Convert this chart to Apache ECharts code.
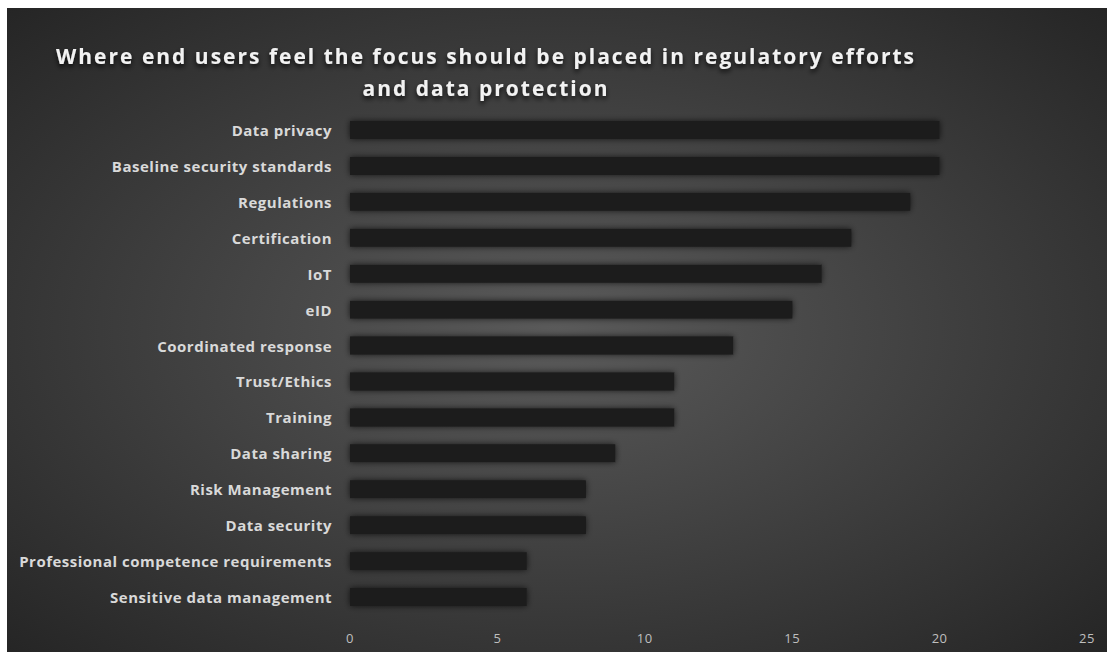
<!DOCTYPE html>
<html>
<head>
<meta charset="utf-8">
<script src="https://cdn.jsdelivr.net/npm/echarts@6/dist/echarts.min.js"></script>
<style>
html,body{margin:0;padding:0;background:#fff;}
#chart{position:absolute;left:7px;top:8px;width:1100px;height:644px;}
#chart text{letter-spacing:0.5px;}
</style>
</head>
<body>
<div id="chart"></div>
<script>
var categories = ["Data privacy","Baseline security standards","Regulations","Certification","IoT","eID","Coordinated response","Trust/Ethics","Training","Data sharing","Risk Management","Data security","Professional competence requirements","Sensitive data management"];
var values = [20,20,19,17,16,15,13,11,11,9,8,8,6,6];
var titleLines = ["Where end users feel the focus should be placed in regulatory efforts", "and data protection"];
var axisMin = 0, axisMax = 25, axisInterval = 5;

var chart = echarts.init(document.getElementById('chart'), null, {renderer: 'svg'});
chart.setOption({
  animation: false,
  backgroundColor: {
    type: 'radial', x: 0.5, y: 0.5, r: 0.75,
    colorStops: [{offset: 0, color: '#5a5a5a'}, {offset: 1, color: '#222222'}]
  },
  title: {
    text: titleLines.join('\n'),
    left: 474, top: 27, textAlign: 'center',
    textStyle: {
      fontFamily: 'Open Sans', fontWeight: 'bold', fontSize: 21, lineHeight: 32,
      color: '#f2f2f2', textShadowColor: 'rgba(0,0,0,0.8)', textShadowBlur: 5, textShadowOffsetY: 3
    }
  },
  grid: {left: 343, right: 20, top: 104, bottom: 37},
  xAxis: {
    type: 'value', min: axisMin, max: axisMax, interval: axisInterval,
    axisLine: {show: false}, axisTick: {show: false}, splitLine: {show: false},
    axisLabel: {color: '#bfbfbf', fontFamily: 'Open Sans', fontSize: 13, margin: 16}
  },
  yAxis: {
    type: 'category', data: categories, inverse: true,
    axisLine: {show: false}, axisTick: {show: false},
    axisLabel: {color: '#d9d9d9', fontFamily: 'Open Sans', fontWeight: 'bold', fontSize: 15, margin: 18}
  },
  series: [{
    type: 'bar', data: values, barWidth: '50%',
    itemStyle: {color: '#1c1c1c', shadowBlur: 6, shadowColor: 'rgba(0,0,0,0.7)'}
  }]
});
function applySpacing() {
  var texts = document.querySelectorAll('#chart text');
  texts.forEach(function (t) {
    var s = t.textContent;
    if (titleLines.indexOf(s) >= 0) t.style.letterSpacing = '2px';
  });
}
applySpacing();
chart.on('finished', applySpacing);
setTimeout(applySpacing, 0);
</script>
</body>
</html>
